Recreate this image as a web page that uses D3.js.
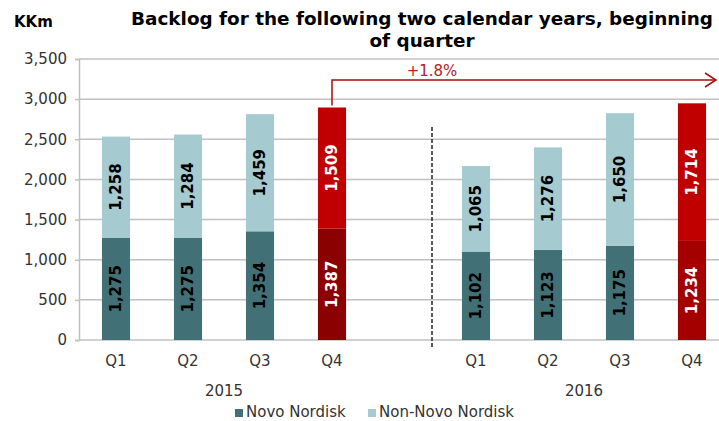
<!DOCTYPE html>
<html>
<head>
<meta charset="utf-8">
<script src="https://cdn.jsdelivr.net/npm/d3@7"></script>
<style>
  body { margin: 0; background: #fff; }
  svg { font-family: "DejaVu Sans", Verdana, sans-serif; }
</style>
</head>
<body>
<div id="chart"></div>
<script>
var width = 719;
var height = 421;

// data
var years = ["2015", "2016"];
var quarters = ["Q1", "Q2", "Q3", "Q4"];
var novo = [1275, 1275, 1354, 1387, 1102, 1123, 1175, 1234];
var nonNovo = [1258, 1284, 1459, 1509, 1065, 1276, 1650, 1714];
var yTicks = [0, 500, 1000, 1500, 2000, 2500, 3000, 3500];
var growthLabel = "+1.8%";

// one slot per quarter, plus an empty slot between the two years
var slots = [];
years.forEach(function(yr, i) {
  if (i > 0) slots.push("gap");
  quarters.forEach(function(q) { slots.push(yr + "-" + q); });
});

var bars = [];
years.forEach(function(yr, i) {
  quarters.forEach(function(q, j) {
    var k = i * quarters.length + j;
    bars.push({ slot: yr + "-" + q, year: yr, q: q, novo: novo[k], non: nonNovo[k], last: j == quarters.length - 1, yi: i });
  });
});

var x = d3.scaleBand()
  .domain(slots)
  .range([80, 728])
  .paddingInner(0.61)
  .paddingOuter(0.305);

var y = d3.scaleLinear()
  .domain([0, 3500])
  .range([340, 59]);

var svg = d3.select("#chart")
  .append("svg")
  .attr("width", width)
  .attr("height", height);

// gridlines
svg.append("g")
  .selectAll("line")
  .data(yTicks)
  .enter()
  .append("line")
  .attr("x1", 79)
  .attr("x2", width)
  .attr("y1", function(d) { return y(d); })
  .attr("y2", function(d) { return y(d); })
  .style("stroke", "#c0c0c0")
  .style("stroke-width", 1.5);

// y axis
var yAxis = d3.axisLeft(y)
  .tickValues(yTicks)
  .tickSize(4)
  .tickFormat(d3.format(","));

var gy = svg.append("g")
  .attr("transform", "translate(79,0)")
  .call(yAxis);
gy.select(".domain").style("stroke", "#c0c0c0").style("stroke-width", 1.5);
gy.selectAll(".tick line").style("stroke", "#c0c0c0").style("stroke-width", 1.5);
gy.selectAll(".tick text")
  .attr("x", -12)
  .style("font-size", "15px")
  .style("fill", "#333")
  .style("font-family", "DejaVu Sans, Verdana, sans-serif");

// bars
var colNovo = function(d) { return d.last ? (d.yi == 0 ? "#8b0000" : "#a50000") : "#417177"; };
var colNon = function(d) { return d.last ? "#c00000" : "#a5cbd0"; };

var g = svg.append("g").selectAll("g")
  .data(bars)
  .enter()
  .append("g");

g.append("rect")
  .attr("x", function(d) { return x(d.slot); })
  .attr("width", x.bandwidth())
  .attr("y", function(d) { return y(d.novo); })
  .attr("height", function(d) { return y(0) - y(d.novo); })
  .style("fill", colNovo);

g.append("rect")
  .attr("x", function(d) { return x(d.slot); })
  .attr("width", x.bandwidth())
  .attr("y", function(d) { return y(d.novo + d.non); })
  .attr("height", function(d) { return y(d.novo) - y(d.novo + d.non); })
  .style("fill", colNon);

// rotated value labels
var fmt = d3.format(",");
function label(sel, val, mid, col) {
  sel.append("text")
    .attr("transform", function(d) {
      return "translate(" + (x(d.slot) + x.bandwidth() / 2) + "," + y(mid(d)) + ") rotate(-90)";
    })
    .attr("text-anchor", "middle")
    .attr("dy", "0.36em")
    .style("font-size", "15px")
    .style("font-weight", "bold")
    .style("fill", col)
    .text(function(d) { return fmt(val(d)); });
}
label(g, function(d) { return d.novo; }, function(d) { return d.novo / 2; },
  function(d) { return d.last ? "#fff" : "#000"; });
label(g, function(d) { return d.non; }, function(d) { return d.novo + d.non / 2; },
  function(d) { return d.last ? "#fff" : "#000"; });

// quarter labels
g.append("text")
  .attr("x", function(d) { return x(d.slot) + x.bandwidth() / 2; })
  .attr("y", 366)
  .attr("text-anchor", "middle")
  .style("font-size", "15px")
  .style("fill", "#333")
  .text(function(d) { return d.q; });

// year labels
years.forEach(function(yr) {
  var c1 = x(yr + "-" + quarters[0]);
  var c2 = x(yr + "-" + quarters[quarters.length - 1]);
  svg.append("text")
    .attr("x", (c1 + c2 + x.bandwidth()) / 2)
    .attr("y", 396)
    .attr("text-anchor", "middle")
    .style("font-size", "15px")
    .style("fill", "#333")
    .text(yr);
});

// dashed divider between years
svg.append("line")
  .attr("x1", 432).attr("x2", 432)
  .attr("y1", 127).attr("y2", 347)
  .style("stroke", "#222")
  .style("stroke-width", 1.5)
  .style("stroke-dasharray", "4,2");

// growth arrow
var first = bars[quarters.length - 1];
var ax = x(first.slot) + x.bandwidth() / 2;
var arrowY = 80;
svg.append("path")
  .attr("d", "M" + ax + "," + (y(first.novo + first.non) - 2) + "V" + arrowY + "H716")
  .style("fill", "none")
  .style("stroke", "#a80d0d")
  .style("stroke-width", 1.5);
svg.append("path")
  .attr("d", "M705," + (arrowY - 7) + "L716," + arrowY + "L705," + (arrowY + 7))
  .style("fill", "none")
  .style("stroke", "#a80d0d")
  .style("stroke-width", 1.5);
svg.append("text")
  .attr("x", 432)
  .attr("y", 76)
  .attr("text-anchor", "middle")
  .style("font-size", "15px")
  .style("fill", "#b22222")
  .text(growthLabel);

// titles
svg.append("text")
  .attr("x", 422).attr("y", 25)
  .attr("text-anchor", "middle")
  .style("font-size", "18.4px")
  .style("font-weight", "bold")
  .text("Backlog for the following two calendar years, beginning");
svg.append("text")
  .attr("x", 422).attr("y", 47)
  .attr("text-anchor", "middle")
  .style("font-size", "18.4px")
  .style("font-weight", "bold")
  .text("of quarter");
svg.append("text")
  .attr("x", 14).attr("y", 27)
  .style("font-size", "15px")
  .style("font-weight", "bold")
  .text("KKm");

// legend
var legend = [
  { name: "Novo Nordisk", color: "#417177", x: 235 },
  { name: "Non-Novo Nordisk", color: "#a5cbd0", x: 368 }
];
var lg = svg.append("g").selectAll("g")
  .data(legend)
  .enter()
  .append("g");
lg.append("rect")
  .attr("x", function(d) { return d.x; })
  .attr("y", 409)
  .attr("width", 8)
  .attr("height", 8)
  .style("fill", function(d) { return d.color; });
lg.append("text")
  .attr("x", function(d) { return d.x + 11; })
  .attr("y", 417)
  .style("font-size", "15px")
  .style("fill", "#333")
  .text(function(d) { return d.name; });
</script>
</body>
</html>
